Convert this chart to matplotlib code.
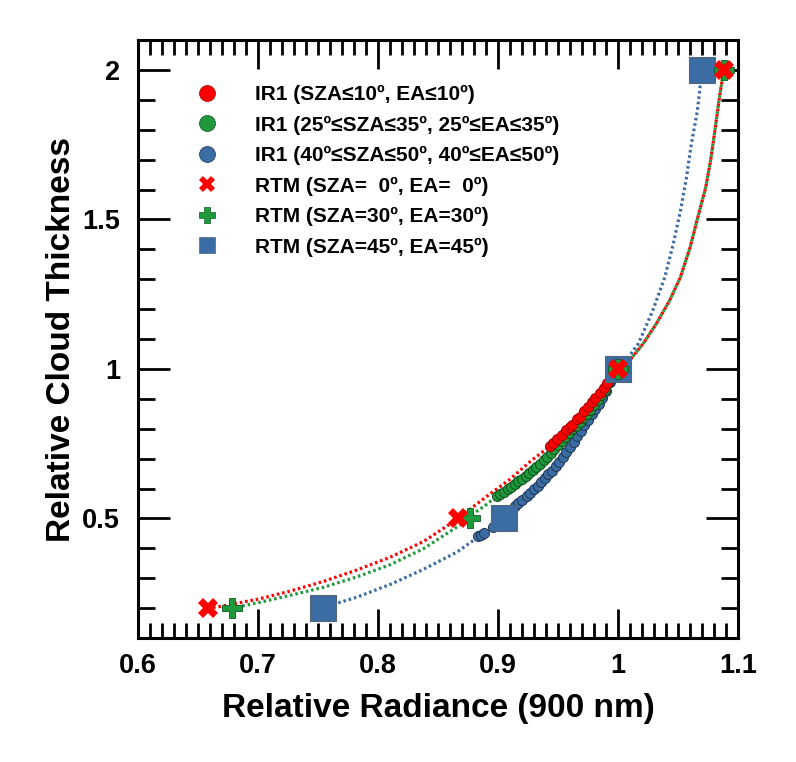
import numpy as np
import matplotlib.pyplot as plt
from matplotlib.lines import Line2D
from matplotlib.ticker import MultipleLocator

plt.rcParams['font.family'] = ['Liberation Sans', 'DejaVu Sans']
plt.rcParams['font.weight'] = 'bold'

red = '#ff0000'
green = '#1e9a3c'
blue = '#3b6ca3'

# RTM simulations
rtm_y = [0.2, 0.5, 1.0, 2.0]
rtm0_x = [0.658, 0.867, 1.0, 1.088]
rtm30_x = [0.678, 0.877, 1.0, 1.088]
rtm45_x = [0.754, 0.905, 1.0, 1.070]

# dotted curves through the RTM points
curve0_x = [0.658, 0.668, 0.700, 0.727, 0.755, 0.782, 0.810, 0.838, 0.867, 0.877,
            0.893, 0.910, 0.927, 0.943, 0.968, 0.991, 1.000, 1.010, 1.021, 1.032,
            1.043, 1.052, 1.060, 1.066, 1.073, 1.077, 1.081, 1.084, 1.088]
curve0_y = [0.200, 0.205, 0.230, 0.257, 0.290, 0.327, 0.370, 0.423, 0.500, 0.532,
            0.581, 0.631, 0.691, 0.741, 0.840, 0.954, 1.000, 1.030, 1.085, 1.152,
            1.229, 1.307, 1.406, 1.500, 1.606, 1.694, 1.805, 1.894, 2.000]
curve30_x = [0.678, 0.700, 0.727, 0.755, 0.782, 0.810, 0.838, 0.874, 0.879, 0.889,
             0.899, 0.910, 0.921, 0.933, 0.943, 0.954, 0.966, 0.977, 0.985, 0.992,
             1.000, 1.010, 1.021, 1.032, 1.043, 1.052, 1.060, 1.066, 1.073, 1.077,
             1.081, 1.084, 1.088]
curve30_y = [0.200, 0.218, 0.243, 0.270, 0.304, 0.345, 0.399, 0.493, 0.515, 0.542,
             0.575, 0.603, 0.636, 0.674, 0.718, 0.765, 0.814, 0.864, 0.907, 0.953,
             1.000, 1.030, 1.085, 1.152, 1.229, 1.307, 1.406, 1.500, 1.606, 1.694,
             1.805, 1.894, 2.000]
curve45_x = [0.754, 0.763, 0.782, 0.810, 0.838, 0.866, 0.882, 0.894, 0.905, 0.914,
             0.924, 0.935, 0.947, 0.960, 0.971, 0.981, 0.988, 0.993, 1.000, 1.003,
             1.017, 1.029, 1.039, 1.046, 1.052, 1.057, 1.061, 1.066, 1.070]
curve45_y = [0.200, 0.213, 0.236, 0.279, 0.330, 0.388, 0.434, 0.470, 0.500, 0.541,
             0.575, 0.618, 0.668, 0.740, 0.805, 0.864, 0.915, 0.960, 1.000, 1.008,
             1.085, 1.196, 1.307, 1.418, 1.528, 1.639, 1.750, 1.860, 2.000]

# IR1 retrievals
ir_low_x = [0.943, 0.946, 0.949, 0.953, 0.957, 0.960, 0.962, 0.966, 0.968, 0.972,
            0.975, 0.978, 0.981, 0.985, 0.988, 0.991, 0.994]
ir_low_y = [0.741, 0.752, 0.764, 0.780, 0.797, 0.805, 0.814, 0.834, 0.840, 0.860,
            0.874, 0.890, 0.903, 0.920, 0.937, 0.954, 0.968]
ir_mid_x = [0.899, 0.902, 0.905, 0.908, 0.911, 0.914, 0.917, 0.920, 0.923, 0.926,
            0.929, 0.932, 0.935, 0.938, 0.941, 0.944, 0.947, 0.950, 0.953, 0.956,
            0.959, 0.962, 0.965, 0.968, 0.971, 0.974, 0.977, 0.980, 0.983, 0.986,
            0.989, 0.992, 0.995, 0.998]
ir_mid_y = [0.575, 0.583, 0.590, 0.598, 0.606, 0.615, 0.624, 0.633, 0.642, 0.652,
            0.662, 0.672, 0.683, 0.695, 0.707, 0.720, 0.733, 0.746, 0.760, 0.773,
            0.786, 0.799, 0.810, 0.823, 0.837, 0.850, 0.864, 0.879, 0.895, 0.912,
            0.930, 0.953, 0.970, 0.988]
ir_high_x = [0.883, 0.886, 0.888, 0.896, 0.914, 0.917, 0.920, 0.924, 0.927, 0.930,
             0.933, 0.936, 0.939, 0.942, 0.945, 0.948, 0.951, 0.954, 0.957, 0.960,
             0.963, 0.966, 0.969, 0.972, 0.975, 0.978, 0.981, 0.984, 0.987, 0.990,
             0.993, 0.996]
ir_high_y = [0.442, 0.446, 0.450, 0.472, 0.541, 0.551, 0.561, 0.575, 0.586, 0.598,
             0.610, 0.622, 0.634, 0.647, 0.660, 0.674, 0.690, 0.706, 0.723, 0.740,
             0.757, 0.775, 0.793, 0.811, 0.829, 0.848, 0.866, 0.884, 0.904, 0.926,
             0.955, 0.978]

labels = ['IR1 (SZA≤10º, EA≤10º)',
          'IR1 (25º≤SZA≤35º, 25º≤EA≤35º)',
          'IR1 (40º≤SZA≤50º, 40º≤EA≤50º)',
          'RTM (SZA=  0º, EA=  0º)',
          'RTM (SZA=30º, EA=30º)',
          'RTM (SZA=45º, EA=45º)']

fig = plt.figure(figsize=(7.96, 7.62), dpi=100)
ax = fig.add_axes([0.1734, 0.1627, 0.7538, 0.7848])

dots = (0, (0.8, 0.9))
ax.plot(curve45_x, curve45_y, color=blue, lw=2.3, linestyle=dots, zorder=2)
ax.plot(curve30_x, curve30_y, color=green, lw=2.3, linestyle=dots, zorder=2)
ax.plot(curve0_x, curve0_y, color=red, lw=2.3, linestyle=dots, zorder=2)

ax.plot(ir_high_x, ir_high_y, 'o', color=blue, ms=7.2, mec='#1c3550', mew=0.7, zorder=3)
ax.plot(ir_mid_x, ir_mid_y, 'o', color=green, ms=7.2, mec='#0d4a1c', mew=0.7, zorder=3)
ax.plot(ir_low_x, ir_low_y, 'o', color=red, ms=7.2, mec='#a00000', mew=0.7, zorder=3)

ax.plot(rtm45_x, rtm_y, 's', color=blue, ms=19, mec='#556677', mew=0.8, zorder=4)
ax.plot(rtm30_x, rtm_y, 'P', color=green, ms=15, mec='#0d5a22', mew=0.6, zorder=5)
ax.plot(rtm0_x, rtm_y, 'X', color=red, ms=15, mec=red, mew=0, zorder=6)

ax.set_xlim(0.6, 1.1)
ax.set_ylim(0.1, 2.1)
ax.set_xticks([0.6, 0.7, 0.8, 0.9, 1.0, 1.1])
ax.set_xticklabels(['0.6', '0.7', '0.8', '0.9', '1', '1.1'])
ax.set_yticks([0.5, 1.0, 1.5, 2.0])
ax.set_yticklabels(['0.5', '1', '1.5', '2'])
ax.xaxis.set_minor_locator(MultipleLocator(0.01))
ax.yaxis.set_minor_locator(MultipleLocator(0.1))
ax.tick_params(which='both', direction='in', top=True, right=True, width=2.0,
               labelsize=19.5)
ax.tick_params(axis='x', which='major', length=21, pad=11)
ax.tick_params(axis='x', which='minor', length=11)
ax.tick_params(axis='y', which='major', length=23, pad=13)
ax.tick_params(axis='y', which='minor', length=12)
for s in ax.spines.values():
    s.set_linewidth(2.2)

ax.set_xlabel('Relative Radiance (900 nm)', fontsize=24, fontweight='bold', labelpad=10)
ax.set_ylabel('Relative Cloud Thickness', fontsize=24, fontweight='bold', labelpad=4)

handles = [
    Line2D([], [], ls='', marker='o', ms=11.5, color=red, mec='#a00000', mew=0.5),
    Line2D([], [], ls='', marker='o', ms=11.5, color=green, mec='#0d4a1c', mew=0.5),
    Line2D([], [], ls='', marker='o', ms=11.5, color=blue, mec='#1c3550', mew=0.5),
    Line2D([], [], ls='', marker='X', ms=11.5, color=red, mew=0),
    Line2D([], [], ls='', marker='P', ms=11.5, color=green, mec='#0d5a22', mew=0.5),
    Line2D([], [], ls='', marker='s', ms=11.5, color=blue, mec='#556677', mew=0.5),
]
ax.legend(handles, labels, loc='upper left', bbox_to_anchor=(0.1, 0.925),
          frameon=False, borderaxespad=0, borderpad=0, handlelength=0.9,
          handletextpad=1.85, labelspacing=0.55,
          prop={'size': 15, 'weight': 'bold'})

fig.savefig('out.png', dpi=100)
